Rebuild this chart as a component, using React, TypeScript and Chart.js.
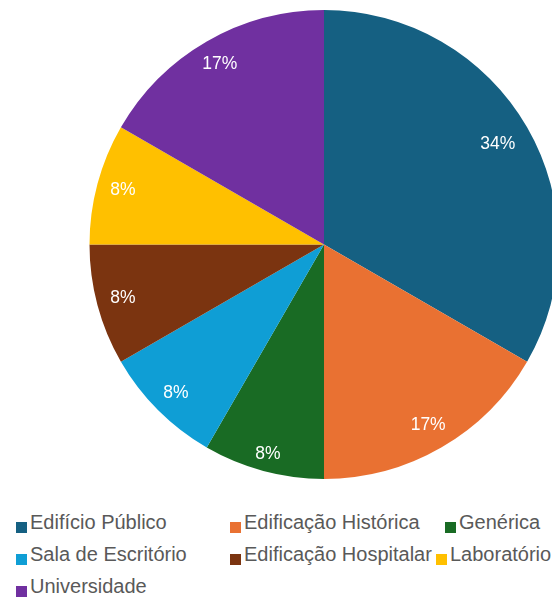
import React, { useEffect, useRef } from "react";
import { Chart, registerables } from "chart.js";

Chart.register(...registerables);

const categories = [
  "Edifício Público",
  "Edificação Histórica",
  "Genérica",
  "Sala de Escritório",
  "Edificação Hospitalar",
  "Laboratório",
  "Universidade",
];
const counts = [4, 2, 1, 1, 1, 1, 2];
const percentLabels = ["34%", "17%", "8%", "8%", "8%", "8%", "17%"];
const colors = ["#156082", "#E97132", "#196B24", "#0F9ED5", "#7B3410", "#FFC000", "#7030A0"];

const FONT = '"Liberation Sans", Arial, sans-serif';

const labelPlugin = {
  id: "insideEndLabels",
  afterDatasetsDraw(chart: any) {
    const ctx = chart.ctx;
    const meta = chart.getDatasetMeta(0);
    ctx.save();
    ctx.font = `17.5px ${FONT}`;
    ctx.fillStyle = "#FFFFFF";
    ctx.textAlign = "center";
    ctx.textBaseline = "middle";
    meta.data.forEach((arc: any, i: number) => {
      const p = arc.getProps(["x", "y", "startAngle", "endAngle", "outerRadius"], true);
      const mid = (p.startAngle + p.endAngle) / 2;
      const text = percentLabels[i];
      const hw = ctx.measureText(text).width / 2;
      const gap = 2 + 1.77 * hw * Math.abs(Math.cos(mid)) + 10 * Math.abs(Math.sin(mid));
      const d = p.outerRadius - gap;
      ctx.fillText(text, p.x + d * Math.cos(mid), p.y + d * Math.sin(mid));
    });
    ctx.restore();
  },
};

export default function App() {
  const ref = useRef<HTMLCanvasElement | null>(null);
  useEffect(() => {
    if (!ref.current) return;
    const chart = new Chart(ref.current, {
      type: "pie",
      data: {
        labels: categories,
        datasets: [
          {
            data: counts,
            backgroundColor: colors,
            borderWidth: 0,
          },
        ],
      },
      options: {
        animation: false,
        responsive: false,
        maintainAspectRatio: false,
        layout: { padding: { top: 10, bottom: 11, left: 0, right: 0 } },
        plugins: {
          legend: { display: false },
          tooltip: { enabled: false },
        },
      },
      plugins: [labelPlugin],
    });
    return () => chart.destroy();
  }, []);

  return (
    <div
      style={{
        position: "fixed",
        left: 0,
        top: 0,
        width: 552,
        height: 598,
        overflow: "hidden",
        background: "#FFFFFF",
      }}
    >
      <canvas
        ref={ref}
        width={648}
        height={490}
        style={{ position: "absolute", left: 0, top: 0, width: 648, height: 490 }}
      />
      <div
        style={{
          position: "absolute",
          left: 16,
          top: 506,
          display: "grid",
          gridTemplateColumns: "214px 215px auto",
          fontFamily: FONT,
          fontSize: 20,
          color: "#595959",
          whiteSpace: "nowrap",
        }}
      >
        {categories.map((c, i) => (
          <div
            key={c}
            style={{
              display: "flex",
              alignItems: "center",
              height: 32,
              marginLeft: i === 5 ? -9 : 0,
            }}
          >
            <span
              style={{
                display: "inline-block",
                flex: "0 0 auto",
                width: 11,
                height: 11,
                background: colors[i],
                marginRight: 3,
                marginTop: 11,
              }}
            />
            <span>{c}</span>
          </div>
        ))}
      </div>
    </div>
  );
}
